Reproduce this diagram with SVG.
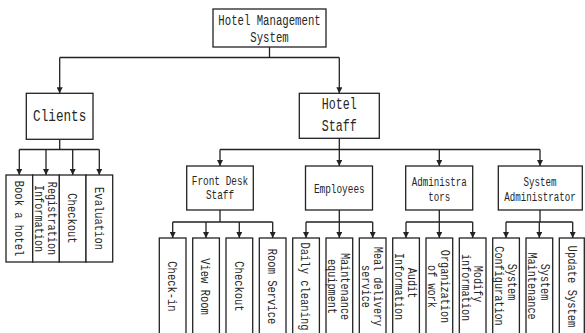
<svg xmlns="http://www.w3.org/2000/svg" width="585" height="333" viewBox="0 0 585 333">
<style>
.box{fill:#fff;stroke:#222;stroke-width:1.3}
.ln{fill:none;stroke:#222;stroke-width:1.3}
.ar{fill:none;stroke:#222;stroke-width:1.3;marker-end:url(#ah)}
text{font-family:"Liberation Mono",monospace;fill:#262626;text-anchor:middle}
.t1{font-size:10.67px}
.t2{font-size:12.67px}
.t3{font-size:11.67px}
.t4{font-size:9.4px}
.t5{font-size:9.17px}
.v{font-size:10.5px}
.v2{font-size:10.2px}
</style>
<defs>
<marker id="ah" markerUnits="userSpaceOnUse" markerWidth="6" markerHeight="6" refX="6" refY="3" orient="auto">
<path d="M0,0 L6,3 L0,6 z" fill="#222"/>
</marker>
</defs>
<rect width="585" height="333" fill="#fff"/>
<g id="connectors">
<path class="ln" d="M269.5,47 V57.5 M59.7,57.5 H339.3"/>
<path class="ar" d="M59.7,57.5 V93.3"/>
<path class="ar" d="M339.3,57.5 V93.3"/>
<path class="ln" d="M59.7,139.3 V149.5 M19.3,149.5 H99.3"/>
<path class="ar" d="M19.3,149.5 V175"/>
<path class="ar" d="M46,149.5 V175"/>
<path class="ar" d="M72.7,149.5 V175"/>
<path class="ar" d="M99.3,149.5 V175"/>
<path class="ln" d="M339.3,138.3 V149.5 M220,149.5 H540"/>
<path class="ar" d="M220,149.5 V166"/>
<path class="ar" d="M339.3,149.5 V166"/>
<path class="ar" d="M439.3,149.5 V166"/>
<path class="ar" d="M540,149.5 V166"/>
<path class="ln" d="M220,210 V222 M172.7,222 H272.7"/>
<path class="ar" d="M172.7,222 V238"/>
<path class="ar" d="M206,222 V238"/>
<path class="ar" d="M239.3,222 V238"/>
<path class="ar" d="M272.7,222 V238"/>
<path class="ln" d="M339.3,210 V222 M306,222 H372.7"/>
<path class="ar" d="M306,222 V238"/>
<path class="ar" d="M339.3,222 V238"/>
<path class="ar" d="M372.7,222 V238"/>
<path class="ln" d="M439.3,210 V222 M406,222 H472.7"/>
<path class="ar" d="M406,222 V238"/>
<path class="ar" d="M439.3,222 V238"/>
<path class="ar" d="M472.7,222 V238"/>
<path class="ln" d="M540,210 V222 M506,222 H572.7"/>
<path class="ar" d="M506,222 V238"/>
<path class="ar" d="M539.3,222 V238"/>
<path class="ar" d="M572.7,222 V238"/>
</g>
<g id="root">
<rect class="box" x="213" y="9" width="113" height="38"/>
<text class="t1" transform="translate(269.5,25) scale(1,1.3)">Hotel Management</text>
<text class="t1" transform="translate(269.5,42) scale(1,1.3)">System</text>
</g>
<g id="clients">
<rect class="box" x="26.3" y="93.3" width="66.7" height="46"/>
<text class="t2" transform="translate(59.7,121.3) scale(1,1.35)">Clients</text>
</g>
<g id="hotel-staff">
<rect class="box" x="299.3" y="93.3" width="80" height="45"/>
<text class="t3" transform="translate(339.3,109.4) scale(1,1.4)">Hotel</text>
<text class="t3" transform="translate(339.3,131.4) scale(1,1.4)">Staff</text>
</g>
<g id="book-hotel">
<rect class="box" x="6" y="175" width="26.7" height="87"/>
<text class="v" transform="translate(19.3,218.5) rotate(90) scale(1,1.3)" y="3.5">Book a hotel</text>
</g>
<g id="registration">
<rect class="box" x="32.7" y="175" width="26.7" height="87"/>
<text class="v2" transform="translate(46,218.5) rotate(90) scale(1,1.3)" y="-1.3">Registration</text>
<text class="v2" transform="translate(46,218.5) rotate(90) scale(1,1.3)" y="8.5">Information</text>
</g>
<g id="checkout-c">
<rect class="box" x="59.3" y="175" width="26.7" height="87"/>
<text class="v" transform="translate(72.7,218.5) rotate(90) scale(1,1.3)" y="3.5">Checkout</text>
</g>
<g id="evaluation">
<rect class="box" x="86" y="175" width="26.7" height="87"/>
<text class="v" transform="translate(99.3,218.5) rotate(90) scale(1,1.3)" y="3.5">Evaluation</text>
</g>
<g id="front-desk">
<rect class="box" x="186.7" y="166" width="66.6" height="44"/>
<text class="t4" transform="translate(220,185.1) scale(1,1.4)">Front Desk</text>
<text class="t4" transform="translate(220,199.4) scale(1,1.4)">Staff</text>
</g>
<g id="employees">
<rect class="box" x="305.5" y="166" width="67" height="44"/>
<text class="t4" transform="translate(339.3,193.4) scale(1,1.4)">Employees</text>
</g>
<g id="administrators">
<rect class="box" x="405.7" y="166" width="67" height="44"/>
<text class="t5" transform="translate(439.3,186) scale(1,1.4)">Administra</text>
<text class="t5" transform="translate(439.3,201) scale(1,1.4)">tors</text>
</g>
<g id="system-admin">
<rect class="box" x="498.3" y="166" width="84" height="44"/>
<text class="t5" transform="translate(540,186) scale(1,1.4)">System</text>
<text class="t5" transform="translate(540,201) scale(1,1.4)">Administrator</text>
</g>
<g id="check-in">
<rect class="box" x="159.3" y="238" width="26.7" height="100"/>
<text class="v" transform="translate(172.7,286.5) rotate(90) scale(1,1.3)" y="3.5">Check-in</text>
</g>
<g id="view-room">
<rect class="box" x="192.7" y="238" width="26.7" height="100"/>
<text class="v" transform="translate(206,286.5) rotate(90) scale(1,1.3)" y="3.5">View Room</text>
</g>
<g id="checkout-f">
<rect class="box" x="226" y="238" width="26.7" height="100"/>
<text class="v" transform="translate(239.3,286.5) rotate(90) scale(1,1.3)" y="3.5">Checkout</text>
</g>
<g id="room-service">
<rect class="box" x="259.3" y="238" width="26.7" height="100"/>
<text class="v" transform="translate(272.7,286.5) rotate(90) scale(1,1.3)" y="3.5">Room Service</text>
</g>
<g id="daily-cleaning">
<rect class="box" x="292.7" y="238" width="26.7" height="100"/>
<text class="v" transform="translate(306,286.5) rotate(90) scale(1,1.3)" y="3.5">Daily cleaning</text>
</g>
<g id="maintenance-equipment">
<rect class="box" x="326" y="238" width="26.7" height="100"/>
<text class="v2" transform="translate(339.3,286.5) rotate(90) scale(1,1.3)" y="-1.3">Maintenance</text>
<text class="v2" transform="translate(339.3,286.5) rotate(90) scale(1,1.3)" y="8.5">equipment</text>
</g>
<g id="meal-delivery">
<rect class="box" x="359.3" y="238" width="26.7" height="100"/>
<text class="v2" transform="translate(372.7,286.5) rotate(90) scale(1,1.3)" y="-1.3">Meal delivery</text>
<text class="v2" transform="translate(372.7,286.5) rotate(90) scale(1,1.3)" y="8.5">service</text>
</g>
<g id="audit-information">
<rect class="box" x="392.7" y="238" width="26.7" height="100"/>
<text class="v2" transform="translate(406,283) rotate(90) scale(1,1.3)" y="-1.3">Audit</text>
<text class="v2" transform="translate(406,286.5) rotate(90) scale(1,1.3)" y="8.5">Information</text>
</g>
<g id="organization">
<rect class="box" x="426" y="238" width="26.7" height="100"/>
<text class="v2" transform="translate(439.3,286.5) rotate(90) scale(1,1.3)" y="-1.3">Organization</text>
<text class="v2" transform="translate(439.3,286.5) rotate(90) scale(1,1.3)" y="8.5">of work</text>
</g>
<g id="modify-information">
<rect class="box" x="459.3" y="238" width="26.7" height="100"/>
<text class="v2" transform="translate(472.7,284) rotate(90) scale(1,1.3)" y="-1.3">Modify</text>
<text class="v2" transform="translate(472.7,287.5) rotate(90) scale(1,1.3)" y="8.5">information</text>
</g>
<g id="system-configuration">
<rect class="box" x="492.7" y="238" width="26.7" height="100"/>
<text class="v2" transform="translate(506,282) rotate(90) scale(1,1.3)" y="-1.3">System</text>
<text class="v2" transform="translate(506,286) rotate(90) scale(1,1.3)" y="8.5">Configuration</text>
</g>
<g id="system-maintenance">
<rect class="box" x="526" y="238" width="26.7" height="100"/>
<text class="v2" transform="translate(539.3,282) rotate(90) scale(1,1.3)" y="-1.3">System</text>
<text class="v2" transform="translate(539.3,286) rotate(90) scale(1,1.3)" y="8.5">Maintenance</text>
</g>
<g id="update-system">
<rect class="box" x="559.3" y="238" width="25" height="100"/>
<text class="v" transform="translate(572.7,286.5) rotate(90) scale(1,1.3)" y="3.5">Update System</text>
</g>
</svg>
